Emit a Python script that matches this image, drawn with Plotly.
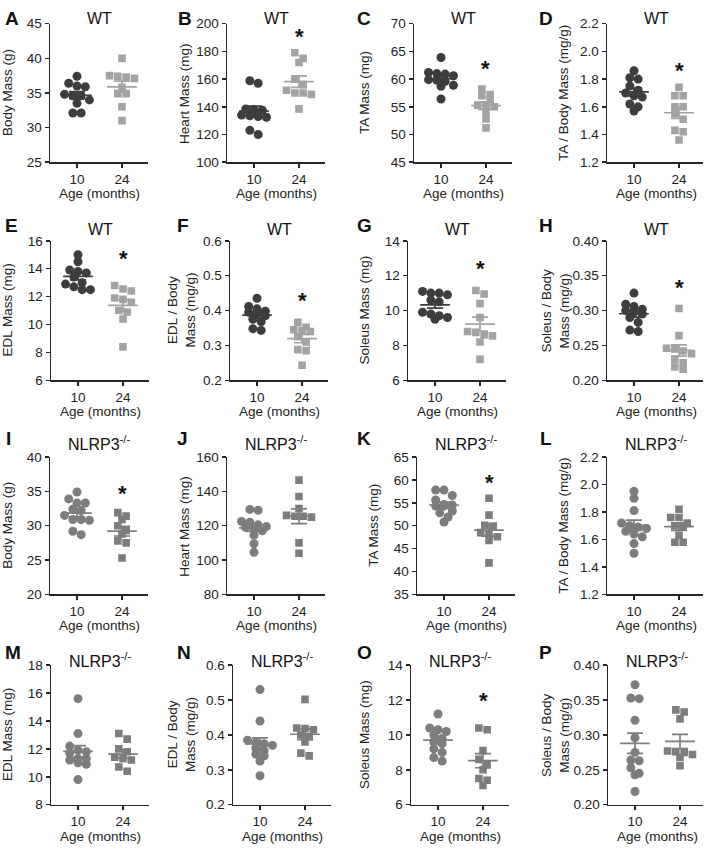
import numpy as np
import plotly.graph_objects as go

FONT = "Liberation Sans, Arial, Helvetica, sans-serif"
W, H = 704, 852

# ---------------- data ----------------
age_labels = ["10", "24"]

A_10 = [37.4, 36.4, 36.0, 35.9, 34.8, 34.6, 34.6, 34.0, 33.5, 32.1, 32.1]
A_24 = [40.0, 37.5, 37.3, 37.1, 37.4, 35.8, 34.9, 34.9, 33.0, 31.0]
B_10 = [158.8, 157.0, 138.5, 138.0, 137.5, 134.0, 133.5, 133.0, 132.5, 123.0, 120.0]
B_24 = [179, 175, 172, 160, 156, 152, 150, 150, 149, 138.5]
C_10 = [63.9, 61.2, 61.0, 60.9, 60.6, 59.9, 59.8, 59.6, 58.9, 58.7, 56.4]
C_24 = [58.2, 57.2, 57.0, 56.3, 55.3, 55.2, 55.0, 54.0, 52.8, 51.2]
D_10 = [1.86, 1.81, 1.80, 1.75, 1.72, 1.70, 1.68, 1.67, 1.62, 1.60, 1.57]
D_24 = [1.74, 1.68, 1.68, 1.60, 1.60, 1.55, 1.51, 1.43, 1.42, 1.36]
E_10 = [15.0, 14.5, 13.9, 13.8, 13.7, 13.4, 13.0, 12.9, 12.7, 12.5, 12.5]
E_24 = [12.8, 12.55, 12.4, 11.9, 11.8, 11.6, 11.0, 10.9, 10.4, 8.4]
F_10 = [0.435, 0.412, 0.405, 0.398, 0.395, 0.390, 0.385, 0.375, 0.368, 0.348, 0.343]
F_24 = [0.366, 0.352, 0.345, 0.343, 0.340, 0.325, 0.310, 0.288, 0.285, 0.243]
G_10 = [11.1, 11.0, 11.0, 10.9, 10.6, 10.5, 9.9, 9.8, 9.7, 9.6, 9.5]
G_24 = [11.15, 10.95, 10.4, 9.6, 8.8, 8.75, 8.6, 8.55, 8.2, 7.2]
H_10 = [0.325, 0.309, 0.306, 0.302, 0.300, 0.298, 0.295, 0.290, 0.283, 0.272, 0.270]
H_24 = [0.303, 0.264, 0.246, 0.245, 0.242, 0.238, 0.230, 0.225, 0.219, 0.216]
I_10 = [34.9, 33.9, 33.3, 33.3, 32.4, 32.2, 31.5, 30.8, 30.9, 30.9, 29.2, 28.7]
I_24 = [31.9, 31.4, 30.9, 30.0, 29.3, 28.8, 27.8, 27.5, 25.3]
J_10 = [129.5, 129.0, 122.5, 122.0, 120.5, 119.5, 119.0, 118.0, 117.0, 114.5, 109.5, 104.5]
J_24 = [146.5, 137.0, 130.0, 126.0, 125.5, 125.5, 125.0, 110.0, 104.0]
K_10 = [57.8, 57.8, 56.6, 55.6, 54.6, 54.5, 54.3, 54.3, 53.2, 52.8, 51.9, 50.8]
K_24 = [56.0, 52.3, 50.1, 49.9, 48.5, 48.2, 47.6, 46.8, 41.9]
L_10 = [1.95, 1.90, 1.81, 1.72, 1.70, 1.69, 1.68, 1.66, 1.64, 1.62, 1.57, 1.50]
L_24 = [1.82, 1.76, 1.76, 1.72, 1.70, 1.69, 1.63, 1.58, 1.58]
M_10 = [15.6, 13.1, 12.2, 11.9, 11.8, 11.7, 11.3, 11.3, 11.2, 11.0, 10.9, 9.8]
M_24 = [13.1, 12.7, 12.0, 11.8, 11.4, 11.3, 11.2, 10.7, 10.4]
N_10 = [0.53, 0.44, 0.385, 0.378, 0.375, 0.370, 0.362, 0.355, 0.345, 0.340, 0.325, 0.283]
N_24 = [0.502, 0.420, 0.418, 0.415, 0.400, 0.395, 0.380, 0.348, 0.340]
O_10 = [11.2, 10.4, 10.3, 10.2, 10.0, 9.8, 9.6, 9.5, 9.2, 9.0, 8.7, 8.5]
O_24 = [10.4, 10.3, 9.1, 8.6, 8.3, 8.0, 7.5, 7.4, 7.1]
P_10 = [0.372, 0.353, 0.352, 0.321, 0.296, 0.275, 0.264, 0.263, 0.253, 0.245, 0.243, 0.219]
P_24 = [0.336, 0.333, 0.323, 0.277, 0.276, 0.275, 0.272, 0.268, 0.256]

# height (data units) of the significance asterisk above the 24-month group (None = not significant)
star_y = [None, 192.5, 62.35, 1.875, 14.88, 0.435, 12.5, 0.336,
          35.0, None, 59.9, None, None, None, 12.1, None]

NL = "NLRP3<sup>-/-</sup>"

# ---------------- panel specs ----------------
panels = [
    dict(L="A", g="WT", yl="Body Mass (g)", yr=(25, 45), dt=5, fmt="d", v=(A_10, A_24)),
    dict(L="B", g="WT", yl="Heart Mass (mg)", yr=(100, 200), dt=20, fmt="d", v=(B_10, B_24)),
    dict(L="C", g="WT", yl="TA Mass (mg)", yr=(45, 70), dt=5, fmt="d", v=(C_10, C_24)),
    dict(L="D", g="WT", yl="TA / Body Mass (mg/g)", yr=(1.2, 2.2), dt=0.2, fmt=".1f", v=(D_10, D_24)),
    dict(L="E", g="WT", yl="EDL Mass (mg)", yr=(6, 16), dt=2, fmt="d", v=(E_10, E_24)),
    dict(L="F", g="WT", yl="EDL / Body<br>Mass (mg/g)", yr=(0.2, 0.6), dt=0.1, fmt=".1f", v=(F_10, F_24)),
    dict(L="G", g="WT", yl="Soleus Mass (mg)", yr=(6, 14), dt=2, fmt="d", v=(G_10, G_24)),
    dict(L="H", g="WT", yl="Soleus / Body<br>Mass (mg/g)", yr=(0.2, 0.4), dt=0.05, fmt=".2f", v=(H_10, H_24)),
    dict(L="I", g=NL, yl="Body Mass (g)", yr=(20, 40), dt=5, fmt="d", v=(I_10, I_24)),
    dict(L="J", g=NL, yl="Heart Mass (mg)", yr=(80, 160), dt=20, fmt="d", v=(J_10, J_24)),
    dict(L="K", g=NL, yl="TA Mass (mg)", yr=(35, 65), dt=5, fmt="d", v=(K_10, K_24)),
    dict(L="L", g=NL, yl="TA / Body Mass (mg/g)", yr=(1.2, 2.2), dt=0.2, fmt=".1f", v=(L_10, L_24)),
    dict(L="M", g=NL, yl="EDL Mass (mg)", yr=(8, 18), dt=2, fmt="d", v=(M_10, M_24)),
    dict(L="N", g=NL, yl="EDL / Body<br>Mass (mg/g)", yr=(0.2, 0.6), dt=0.1, fmt=".1f", v=(N_10, N_24)),
    dict(L="O", g=NL, yl="Soleus Mass (mg)", yr=(6, 14), dt=2, fmt="d", v=(O_10, O_24)),
    dict(L="P", g=NL, yl="Soleus / Body<br>Mass (mg/g)", yr=(0.2, 0.4), dt=0.05, fmt=".2f", v=(P_10, P_24)),
]

# layout geometry (pixels)
axis_left = [50, 227, 414, 607, 51, 230, 408, 607, 50, 227, 417, 607, 51, 233, 411, 608]
ytitle_x = [8, 185, 365, 564, 8, 182, 365, 556, 8, 185, 374, 564, 8, 182, 365, 556]
letter_x = [3, 176, 355, 537, 3, 175, 355, 537, 4, 175, 355, 538, 3, 175, 355, 537]
rows_tb = [(17, 158), (238, 380), (458, 598), (670, 812)]
title_y = [12, 226, 444, 665]
letter_y = [12, 222, 439, 657]
PW = 98
X_LO = -0.6
PX_PER_X = 45.0
TXT = 13.5

WT_COL = ("#3d3d3d", "#a3a3a3")
NL_COL = ("#7d7d7d", "#7d7d7d")
AX_COL = "#262626"


def swarm(vals, ppu, d_px=8.3, bin_px=6.0):
    v = np.asarray(vals, float)
    ypx = v * ppu
    order = list(np.argsort(-ypx, kind="stable"))
    offs = np.zeros(len(v))
    bins, cur = [], [order[0]]
    for i in order[1:]:
        if ypx[cur[0]] - ypx[i] < bin_px:
            cur.append(i)
        else:
            bins.append(cur)
            cur = [i]
    bins.append(cur)
    for b in bins:
        n = len(b)
        for k, i in enumerate(b):
            offs[i] = (k - (n - 1) / 2) * d_px / PX_PER_X
    return offs


fig = go.Figure()
ann = []
layout = {}

for idx, p in enumerate(panels):
    n = idx + 1
    xa = "x" if n == 1 else f"x{n}"
    ya = "y" if n == 1 else f"y{n}"
    r = idx // 4
    top, bot = rows_tb[r]
    left = axis_left[idx]
    pw = min(PW, W - 1 - left)
    x0, x1 = left / W, (left + pw) / W
    y0, y1 = 1 - bot / H, 1 - top / H
    lo, hi = p["yr"]
    span = hi - lo
    ppu = (bot - top) / span
    cols = WT_COL if p["g"] == "WT" else NL_COL
    symbols = ("circle", "square")
    sizes = (9, 7.6)

    for gi in range(2):
        vals = np.asarray(p["v"][gi], float)
        offs = swarm(vals, ppu)
        fig.add_trace(go.Scatter(
            x=gi + offs, y=vals, mode="markers", xaxis=xa, yaxis=ya,
            marker=dict(symbol=symbols[gi], size=sizes[gi], color=cols[gi], line=dict(width=0)),
            hoverinfo="skip"))
        m = vals.mean()
        sem = vals.std(ddof=1) / np.sqrt(len(vals))
        fig.add_trace(go.Scatter(
            x=[gi - 0.33, gi + 0.33], y=[m, m], mode="lines", xaxis=xa, yaxis=ya,
            line=dict(color=cols[gi], width=1.7), hoverinfo="skip"))
        fig.add_trace(go.Scatter(
            x=[gi], y=[m], mode="markers", xaxis=xa, yaxis=ya,
            marker=dict(size=1, opacity=0),
            error_y=dict(type="data", array=[sem], color=cols[gi], thickness=1.7, width=8),
            hoverinfo="skip"))

    if star_y[idx] is not None:
        ann.append(dict(x=1, y=star_y[idx], xref=xa, yref=ya, text="<b>*</b>",
                        showarrow=False, font=dict(family=FONT, size=22, color="#111"),
                        xanchor="center", yanchor="middle", yshift=-2))

    eps = span * 1e-6
    layout["xaxis" if n == 1 else f"xaxis{n}"] = dict(
        domain=[x0, x1], range=[X_LO, X_LO + pw / PX_PER_X], anchor=ya, showgrid=False, zeroline=False,
        showline=True, linecolor=AX_COL, linewidth=1.5, ticks="outside", ticklen=4,
        tickwidth=1.5, tickcolor=AX_COL, tickvals=[0, 1], ticktext=age_labels,
        tickfont=dict(family=FONT, size=TXT, color="#222"), fixedrange=True)
    layout["yaxis" if n == 1 else f"yaxis{n}"] = dict(
        domain=[y0, y1], range=[lo - eps, hi + eps], anchor=xa, showgrid=False, zeroline=False,
        showline=True, linecolor=AX_COL, linewidth=1.5, ticks="outside", ticklen=4,
        tickwidth=1.5, tickcolor=AX_COL, tick0=lo, dtick=p["dt"],
        tickformat=p["fmt"], tickfont=dict(family=FONT, size=TXT, color="#222"), fixedrange=True)

    # panel letter
    ann.append(dict(x=letter_x[idx] / W, y=1 - letter_y[r] / H, xref="paper", yref="paper",
                    text=f"<b>{p['L']}</b>", showarrow=False, xanchor="left", yanchor="middle",
                    font=dict(family=FONT, size=19, color="#111")))
    # genotype title
    ann.append(dict(x=(left + PW / 2) / W, y=1 - title_y[r] / H, xref="paper", yref="paper",
                    text=p["g"], showarrow=False, xanchor="center", yanchor="middle",
                    font=dict(family=FONT, size=16, color="#111")))
    # y-axis title
    ann.append(dict(x=ytitle_x[idx] / W, y=1 - (top + bot) / 2 / H, xref="paper", yref="paper",
                    text=p["yl"], showarrow=False, textangle=-90, xanchor="center", yanchor="middle",
                    font=dict(family=FONT, size=TXT, color="#222")))
    # x-axis title
    ann.append(dict(x=(left + PW / 2) / W, y=1 - (bot + 32) / H, xref="paper", yref="paper",
                    text="Age (months)", showarrow=False, xanchor="center", yanchor="middle",
                    font=dict(family=FONT, size=TXT, color="#222")))

fig.update_layout(
    width=W, height=H, margin=dict(l=0, r=0, t=0, b=0),
    paper_bgcolor="white", plot_bgcolor="white", showlegend=False,
    annotations=ann, **layout)

fig.write_html("out.html", config={"displayModeBar": False, "staticPlot": True},
               post_script="document.body.style.margin='0';document.body.style.padding='0';")
